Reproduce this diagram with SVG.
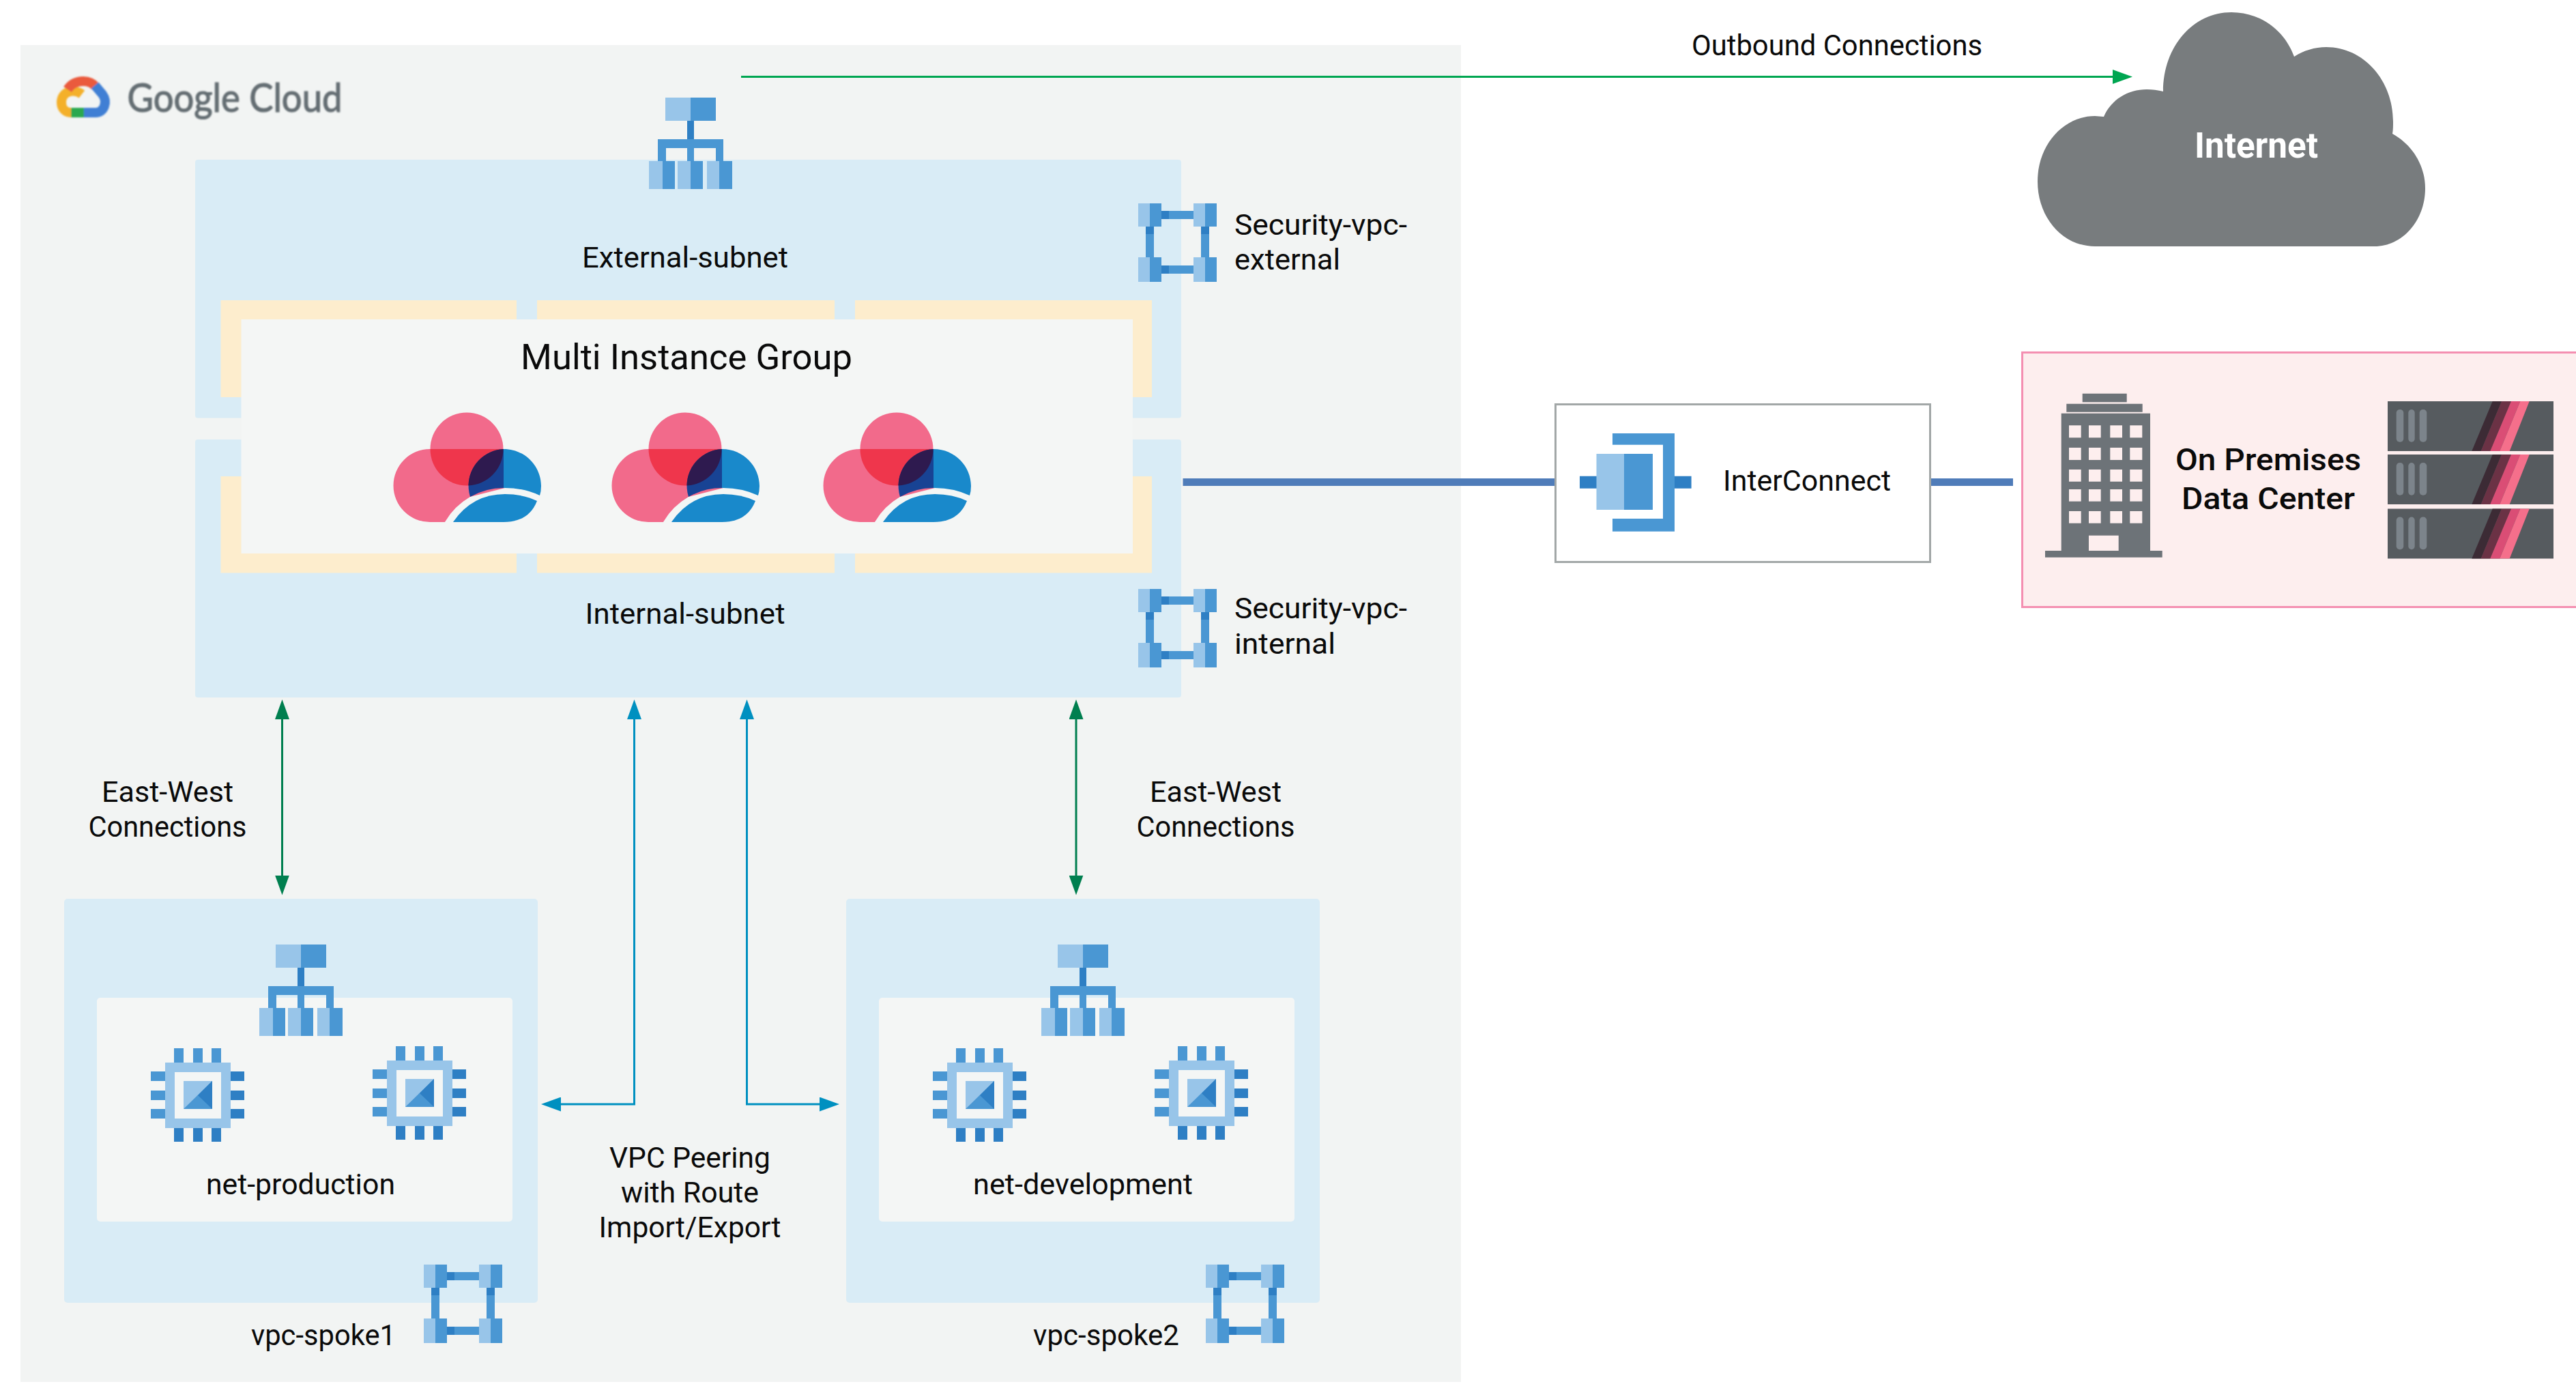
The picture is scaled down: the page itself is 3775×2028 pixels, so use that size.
<svg xmlns="http://www.w3.org/2000/svg" width="3775" height="2028" viewBox="0 0 3775 2028">
<style>
text{font-family:Roboto,"Liberation Sans",sans-serif;fill:#0a0a0a;font-size:42px}
.m{text-anchor:middle}
.box{fill:#d9ecf6}
.panel{fill:#f4f6f5}
.cream{fill:#fdedcd}
.lt{fill:#98c5e9}
.md{fill:#4a97d3}
.dk{fill:#2e7fc4}
.gn{fill:none;stroke:#007f4f;stroke-width:3}
.bl{fill:none;stroke:#0090c0;stroke-width:3}
.ic{fill:none;stroke:#4f7cb9;stroke-width:11}
.win{fill:#fdeeee}
.vent{fill:#7c848b}
.lg{fill:none;stroke-width:14}
</style>
<defs>
<filter id="soft" x="-5%" y="-20%" width="110%" height="140%"><feGaussianBlur stdDeviation="1.3"/></filter>
<marker id="hGreen" markerUnits="userSpaceOnUse" markerWidth="29" markerHeight="21" refX="1" refY="10.5" orient="auto-start-reverse"><path d="M0 0L29 10.5L0 21Z" fill="#007f4f"/></marker>
<marker id="hBlue" markerUnits="userSpaceOnUse" markerWidth="29" markerHeight="21" refX="1" refY="10.5" orient="auto-start-reverse"><path d="M0 0L29 10.5L0 21Z" fill="#0090c0"/></marker>
<marker id="hOut" markerUnits="userSpaceOnUse" markerWidth="29" markerHeight="21" refX="1" refY="10.5" orient="auto"><path d="M0 0L29 10.5L0 21Z" fill="#00a651"/></marker>
<g id="hier">
<rect class="dk" x="56" y="34" width="10" height="28"/>
<path class="md" d="M13 61H109V93H98V74H66V93H56V74H25V93H13Z"/>
<rect class="lt" x="24" y="0" width="37" height="34"/><rect class="md" x="61" y="0" width="37" height="34"/>
<rect class="lt" x="0" y="93" width="20" height="41"/><rect class="md" x="20" y="93" width="18" height="41"/>
<rect class="lt" x="42" y="93" width="19" height="41"/><rect class="md" x="61" y="93" width="18" height="41"/>
<rect class="lt" x="85" y="93" width="18" height="41"/><rect class="md" x="103" y="93" width="19" height="41"/>
</g>
<g id="vpc">
<rect class="md" x="34" y="11" width="47" height="12"/><rect class="dk" x="34" y="11" width="11" height="12"/>
<rect class="md" x="34" y="91" width="47" height="12"/><rect class="dk" x="34" y="91" width="11" height="12"/>
<rect class="md" x="11" y="34" width="12" height="46"/><rect class="dk" x="11" y="34" width="12" height="11"/>
<rect class="md" x="92" y="34" width="12" height="46"/><rect class="dk" x="92" y="34" width="12" height="11"/>
<rect class="lt" x="0" y="0" width="17" height="34"/><rect class="md" x="17" y="0" width="17" height="34"/>
<rect class="lt" x="81" y="0" width="17" height="34"/><rect class="md" x="98" y="0" width="17" height="34"/>
<rect class="lt" x="0" y="79" width="17" height="36"/><rect class="md" x="17" y="79" width="17" height="36"/>
<rect class="lt" x="81" y="79" width="17" height="36"/><rect class="md" x="98" y="79" width="17" height="36"/>
</g>
<g id="chip">
<path class="md" d="M34 0h14v21h-14zM62 0h14v21h-14zM89 0h14v21h-14zM0 34h21v14h-21zM0 62h21v14h-21zM0 89h21v14h-21z"/>
<path class="dk" d="M34 117h14v20h-14zM62 117h14v20h-14zM89 117h14v20h-14zM117 34h20v14h-20zM117 62h20v14h-20zM117 89h20v14h-20z"/>
<path class="lt" fill-rule="evenodd" d="M21 21H117V117H21ZM35 35V103H103V35Z"/>
<rect class="lt" x="48" y="48" width="42" height="41"/>
<path class="md" d="M48 89L90 48V89Z"/>
<path class="dk" d="M90 48V89L69 69Z"/>
</g>
<g id="gcpcloud">
<path fill="#f26a8b" d="M630 658H740V715L689 728Q665 742 652 765H630A53.5 53.5 0 0 1 630 658Z"/>
<circle cx="684" cy="658" r="53.5" fill="#f26a8b"/>
<path fill="#ef364c" d="M630.5 658A53.5 53.5 0 0 0 737.5 658Z"/>
<path fill="#184394" d="M738 658A54 54 0 0 0 689 728Q712 715 738 715Z"/>
<path fill="#1989cb" d="M738 658C770 658 793 684 793 712Q793 720 791 726Q766 714.500 738 715Z"/>
<path fill="#2e1a4f" d="M737.500 658A54 54 0 0 0 686.500 711.500A53.500 53.500 0 0 0 737.500 658Z"/>
<path fill="#1989cb" d="M664 765Q692 724 740 724Q766 724 787 734Q775 765 738 765Z"/>
</g>
<g id="server">
<rect width="243" height="73" fill="#565b5f"/>
<path fill="#3c2b35" d="M153.700 0H167L136.700 73H123.300Z"/>
<path fill="#6b3245" d="M167 0H181L150.300 73H136.700Z"/>
<path fill="#da4d75" d="M181 0H194.300L164.300 73H150.300Z"/>
<path fill="#f56f8b" d="M194.300 0H207.700L178.700 73H164.300Z"/>
<rect class="vent" x="12.700" y="12" width="10.600" height="47.700" rx="5"/>
<rect class="vent" x="30.300" y="12" width="9.400" height="47.700" rx="4.700"/>
<rect class="vent" x="46.700" y="12" width="10.600" height="47.700" rx="5"/>
</g>
</defs>

<rect id="background" width="3775" height="2028" fill="#ffffff"/>

<g id="google-cloud">
<rect x="30" y="66" width="2111" height="1959" fill="#f2f4f3"/>
<g id="google-logo" filter="url(#soft)">
<path class="lg" stroke="#f4b02a" d="M120 138C108 129 90 134 90 150C90 160 97 165 104 165"/>
<path class="lg" stroke="#ea5a3c" d="M99 131C105 122 114 119 122 119C130 119 136 122 140 127"/>
<path class="lg" stroke="#3f7fd4" d="M139 125L150 138C158 149 153 165 140 165H123"/>
<path class="lg" stroke="#2ba84f" d="M123 165H104"/>
<text x="344" y="164" class="m" textLength="315" lengthAdjust="spacingAndGlyphs" style="font-family:Lato,sans-serif;font-size:58px;fill:#646d72;stroke:#646d72;stroke-width:1.2">Google Cloud</text>
</g>
</g>

<g id="external-subnet">
<rect class="box" x="286" y="234" width="1445" height="378.500" rx="4"/>
<text class="m" x="1004" y="391.700" textLength="302" lengthAdjust="spacingAndGlyphs">External-subnet</text>
</g>
<g id="internal-subnet">
<rect class="box" x="286" y="644" width="1445" height="378" rx="4"/>
<text class="m" x="1004" y="914" textLength="293" lengthAdjust="spacingAndGlyphs">Internal-subnet</text>
</g>
<g id="instance-slots">
<rect class="cream" x="323.500" y="440" width="433.500" height="142"/>
<rect class="cream" x="787" y="440" width="436" height="142"/>
<rect class="cream" x="1253" y="440" width="435" height="142"/>
<rect class="cream" x="323.500" y="698" width="433.500" height="141.500"/>
<rect class="cream" x="787" y="698" width="436" height="141.500"/>
<rect class="cream" x="1253" y="698" width="435" height="141.500"/>
</g>
<g id="multi-instance-group">
<rect class="panel" x="353.500" y="468" width="1306.500" height="343"/>
<text class="m" x="1006" y="540.600" textLength="486" lengthAdjust="spacingAndGlyphs" style="font-size:52px">Multi Instance Group</text>
<use href="#gcpcloud"/>
<use href="#gcpcloud" x="320"/>
<use href="#gcpcloud" x="630"/>
</g>
<g id="load-balancer-external"><use href="#hier" x="951" y="143"/></g>
<g id="security-vpc-external">
<use href="#vpc" x="1668" y="298"/>
<text x="1809" y="344" textLength="253" lengthAdjust="spacingAndGlyphs">Security-vpc-</text>
<text x="1809" y="395" textLength="155" lengthAdjust="spacingAndGlyphs">external</text>
</g>
<g id="security-vpc-internal">
<use href="#vpc" x="1668" y="863"/>
<text x="1809" y="906" textLength="253" lengthAdjust="spacingAndGlyphs">Security-vpc-</text>
<text x="1809" y="958" textLength="148" lengthAdjust="spacingAndGlyphs">internal</text>
</g>

<g id="vpc-spoke1">
<rect class="box" x="94" y="1317" width="694" height="592" rx="5"/>
<rect class="panel" x="142" y="1462" width="609" height="328" rx="5"/>
<use href="#hier" x="380" y="1384"/>
<use href="#chip" x="221" y="1536"/>
<use href="#chip" x="546" y="1533"/>
<text class="m" x="440.500" y="1749.500" textLength="277" lengthAdjust="spacingAndGlyphs">net-production</text>
<use href="#vpc" x="621" y="1853"/>
<text class="m" x="474" y="1971" textLength="212" lengthAdjust="spacingAndGlyphs">vpc-spoke1</text>
</g>
<g id="vpc-spoke2">
<rect class="box" x="1240" y="1317" width="694" height="592" rx="5"/>
<rect class="panel" x="1288" y="1462" width="609" height="328" rx="5"/>
<use href="#hier" x="1526" y="1384"/>
<use href="#chip" x="1367" y="1536"/>
<use href="#chip" x="1692" y="1533"/>
<text class="m" x="1587" y="1749.500" textLength="322" lengthAdjust="spacingAndGlyphs">net-development</text>
<use href="#vpc" x="1767" y="1853"/>
<text class="m" x="1621" y="1971" textLength="214" lengthAdjust="spacingAndGlyphs">vpc-spoke2</text>
</g>

<g id="connectors">
<path class="gn" style="stroke:#00a651" d="M1086 112.500H3097" marker-end="url(#hOut)"/>
<path class="ic" d="M1733.500 706.500H2279"/>
<path class="ic" d="M2829 706.500H2950"/>
<path class="gn" d="M413.500 1053V1283.500" marker-start="url(#hGreen)" marker-end="url(#hGreen)"/>
<path class="gn" d="M1577 1053V1283.500" marker-start="url(#hGreen)" marker-end="url(#hGreen)"/>
<path class="bl" d="M929.500 1053V1618H821" marker-start="url(#hBlue)" marker-end="url(#hBlue)"/>
<path class="bl" d="M1094.500 1053V1618H1202" marker-start="url(#hBlue)" marker-end="url(#hBlue)"/>
</g>

<g id="connector-labels">
<text class="m" x="2692" y="81" textLength="426" lengthAdjust="spacingAndGlyphs">Outbound Connections</text>
<text class="m" x="245.500" y="1175" textLength="193" lengthAdjust="spacingAndGlyphs">East-West</text>
<text class="m" x="245.500" y="1226" textLength="232" lengthAdjust="spacingAndGlyphs">Connections</text>
<text class="m" x="1781.500" y="1175" textLength="193" lengthAdjust="spacingAndGlyphs">East-West</text>
<text class="m" x="1781.500" y="1226" textLength="232" lengthAdjust="spacingAndGlyphs">Connections</text>
<text class="m" x="1011" y="1711" textLength="236" lengthAdjust="spacingAndGlyphs">VPC Peering</text>
<text class="m" x="1011" y="1762" textLength="202" lengthAdjust="spacingAndGlyphs">with Route</text>
<text class="m" x="1011" y="1813" textLength="267" lengthAdjust="spacingAndGlyphs">Import/Export</text>
</g>

<g id="internet">
<path fill="#787c7e" d="M3070 361C3022 361 2986 318 2986 266C2986 212 3024 170 3070 170L3083 171C3094 146 3118 131 3146 131C3154 131 3162 132 3170 134C3170 68 3214 18 3270 18C3312 18 3348 44 3362 83C3376 74 3392 69 3409 69C3464 69 3507 118 3507 178C3507 184 3507 190 3506 196C3535 212 3554 242 3554 276C3554 324 3520 361 3480 361Z"/>
<text class="m" x="3306.500" y="230.700" textLength="181" lengthAdjust="spacingAndGlyphs" style="fill:#ffffff;font-weight:700;font-size:51px">Internet</text>
</g>

<g id="interconnect">
<rect x="2279.500" y="592.500" width="549" height="231" fill="#ffffff" stroke="#a2a7a7" stroke-width="3"/>
<rect class="dk" x="2315" y="697.700" width="25" height="18"/>
<rect class="dk" x="2454" y="697.700" width="24.600" height="18"/>
<path class="md" d="M2363 635H2454V778.700H2363V760H2437V651.700H2363Z"/>
<rect class="lt" x="2339.500" y="665" width="40.500" height="82"/>
<rect class="md" x="2380" y="665" width="42" height="82"/>
<text class="m" x="2648" y="719" textLength="246" lengthAdjust="spacingAndGlyphs">InterConnect</text>
</g>

<g id="on-premises">
<rect x="2963.500" y="516.500" width="830" height="373" fill="#fdeeee" stroke="#f48fb1" stroke-width="3"/>
<g id="building">
<path fill="#6d7378" d="M3051.700 576.700H3116.700V589.300H3051.700ZM3028.300 591.700H3139.700V603.700H3028.300ZM3020.700 605.700H3151V807H3168.700V816.700H2997V807H3020.700Z"/>
<g class="win">
<rect x="3032" y="623.300" width="17.700" height="18"/><rect x="3061" y="623.300" width="17.700" height="18"/><rect x="3092.300" y="623.300" width="17.700" height="18"/><rect x="3121.300" y="623.300" width="18" height="18"/>
<rect x="3032" y="656" width="17.700" height="18"/><rect x="3061" y="656" width="17.700" height="18"/><rect x="3092.300" y="656" width="17.700" height="18"/><rect x="3121.300" y="656" width="18" height="18"/>
<rect x="3032" y="688" width="17.700" height="17.700"/><rect x="3061" y="688" width="17.700" height="17.700"/><rect x="3092.300" y="688" width="17.700" height="17.700"/><rect x="3121.300" y="688" width="18" height="17.700"/>
<rect x="3032" y="717" width="17.700" height="17.700"/><rect x="3061" y="717" width="17.700" height="17.700"/><rect x="3092.300" y="717" width="17.700" height="17.700"/><rect x="3121.300" y="717" width="18" height="17.700"/>
<rect x="3032" y="749" width="17.700" height="17.700"/><rect x="3061" y="749" width="17.700" height="17.700"/><rect x="3092.300" y="749" width="17.700" height="17.700"/><rect x="3121.300" y="749" width="18" height="17.700"/>
<rect x="3061" y="784.700" width="43.700" height="22.300"/>
</g>
</g>
<text class="m" x="3324" y="689" textLength="272" lengthAdjust="spacingAndGlyphs" style="font-weight:500;font-size:45px">On Premises</text>
<text class="m" x="3324" y="746" textLength="254" lengthAdjust="spacingAndGlyphs" style="font-weight:500;font-size:45px">Data Center</text>
<use href="#server" x="3499" y="588"/>
<use href="#server" x="3499" y="666"/>
<use href="#server" x="3499" y="745.500"/>
</g>
</svg>
